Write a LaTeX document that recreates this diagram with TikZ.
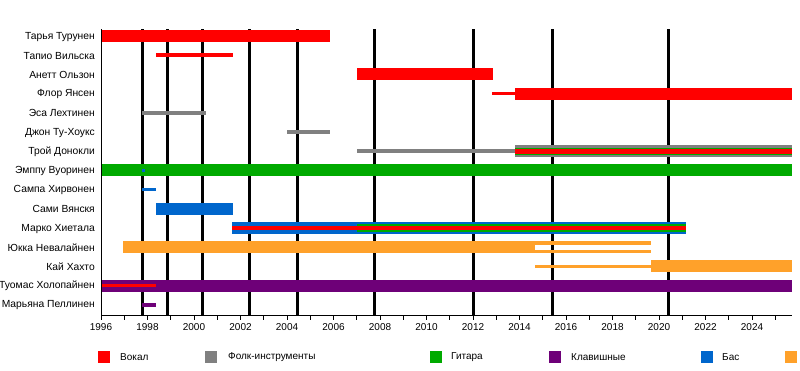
\documentclass[tikz,border=0pt]{standalone}
\usepackage{fontspec}
\setmainfont{Liberation Sans}
\definecolor{cvox}{HTML}{FF0000}
\definecolor{cfolk}{HTML}{808080}
\definecolor{cgtr}{HTML}{00AA00}
\definecolor{ckey}{HTML}{6E0078}
\definecolor{cbass}{HTML}{0066CC}
\definecolor{cdrum}{HTML}{FFA12A}
% bar: colour, start year, end year, row, half-height
\newcommand\tlbar[5]{\fill[#1] ({#2-1996},{36+#4*19.2-#5}) rectangle ({#3-1996},{36+#4*19.2+#5});}
\newcommand\tlfull[4]{\tlbar{#1}{#2}{#3}{#4}{6}}
\newcommand\tlthin[4]{\tlbar{#1}{#2}{#3}{#4}{1.8}}
\newcommand\tlmid[4]{\tlbar{#1}{#2}{#3}{#4}{3.6}}
\begin{document}
\begin{tikzpicture}[x=1pt,y=-1pt,
  rowlabel/.style={anchor=east,font=\fontsize{10.3}{12}\selectfont,inner sep=0pt},
  yearlabel/.style={anchor=north,font=\fontsize{10}{12}\selectfont,inner sep=0pt},
  legtext/.style={anchor=west,font=\fontsize{10}{12}\selectfont,inner sep=0pt},
  legbox/.style={minimum width=12pt,minimum height=12pt,inner sep=0pt,anchor=north west}]
\useasboundingbox (0,0) rectangle (800,370);
\fill[white] (0,0) rectangle (800,370);
% row labels
\foreach \n/\t [count=\i from 0] in {r0/Тарья Турунен,r1/Тапио Вильска,r2/Анетт Ользон,r3/Флор Янсен,r4/Эса Лехтинен,r5/Джон Ту-Хоукс,r6/Трой Донокли,r7/Эмппу Вуоринен,r8/Сампа Хирвонен,r9/Сами Вянскя,r10/Марко Хиетала,r11/Юкка Невалайнен,r12/Кай Хахто,r13/Туомас Холопайнен,r14/Марьяна Пеллинен}{
  \node[rowlabel] (\n) at (95,{36.6+\i*19.2}) {\t};
}
\begin{scope}[xshift=101pt,x=23.25pt]
% album lines
\foreach \a in {1997.8,1998.88,2000.35,2002.37,2004.43,2007.78,2012.04,2015.4,2020.39}
  \draw[line width=3pt] ({\a-1996},29) -- ({\a-1996},315);
% bars
\tlfull{cvox}{1996}{2005.85}{0}
\tlthin{cvox}{1998.37}{2001.68}{1}
\tlfull{cvox}{2007.0}{2012.85}{2}
\tlthin{cvox}{2012.82}{2013.8}{3}
\tlfull{cvox}{2013.8}{2025.7}{3}
\tlthin{cfolk}{1997.78}{2000.5}{4}
\tlthin{cfolk}{2004.0}{2005.85}{5}
\tlthin{cfolk}{2007.0}{2013.8}{6}
\tlfull{cfolk}{2013.8}{2025.7}{6}
\tlmid{cgtr}{2013.8}{2025.7}{6}
\tlbar{cvox}{2013.8}{2025.7}{6}{2.6}
\tlfull{cgtr}{1996}{2025.7}{7}
\tlbar{cbass}{1997.75}{1997.9}{7}{1.5}
\tlthin{cbass}{1997.78}{1998.37}{8}
\tlfull{cbass}{1998.37}{2001.68}{9}
\tlfull{cbass}{2001.65}{2021.15}{10}
\tlmid{cgtr}{2007.0}{2021.15}{10}
\tlbar{cvox}{2001.65}{2021.15}{10}{2.2}
\tlfull{cdrum}{1996.95}{2014.67}{11}
\fill[cdrum] ({2014.67-1996},{36+11*19.2-5.8}) rectangle ({2019.65-1996},{36+11*19.2-2.4});
\fill[cdrum] ({2014.67-1996},{36+11*19.2+2.4}) rectangle ({2019.65-1996},{36+11*19.2+5.8});
\tlthin{cdrum}{2014.67}{2019.65}{12}
\tlfull{cdrum}{2019.65}{2025.7}{12}
\tlfull{ckey}{1996}{2025.7}{13}
\tlthin{cvox}{1996}{1998.37}{13}
\tlthin{ckey}{1997.78}{1998.37}{14}
% axes
\draw[line width=0.8pt] (0,29) coordinate (ax0) -- (0,315) coordinate (ax1) -- (29.7,315) coordinate (ax2);
\foreach \y in {0,...,29}
  \draw[line width=0.8pt] (\y,315) -- (\y,320);
\foreach \y in {1996,1998,...,2024}
  \node[yearlabel] (yl\y) at ({\y-1996},323) {\y};
\end{scope}
% legend
\foreach \c/\x/\t/\tx [count=\k] in {cvox/98/Вокал/120,cfolk/205/Фолк-инструменты/228,cgtr/430/Гитара/451,ckey/549/Клавишные/571,cbass/701/Бас/722}{
  \node[legbox,fill=\c] (lb\k) at (\x,351) {};
  \node[legtext] (lt\k) at (\tx,357.5) {\t};
}
\node[legbox,fill=cdrum] (lb6) at (785,351) {};
\end{tikzpicture}
\end{document}
